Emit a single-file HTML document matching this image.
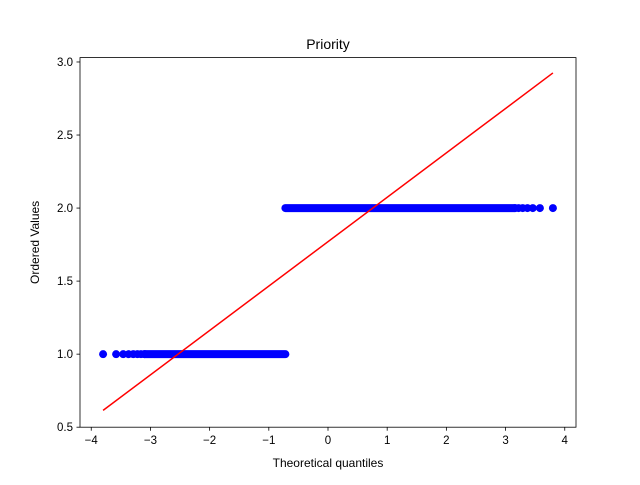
<!DOCTYPE html>
<html><head><meta charset="utf-8"><style>
body{margin:0;background:#fff;}
svg text{font-family:"Liberation Sans","DejaVu Sans",sans-serif;}
</style></head><body>
<svg id="chart" width="640" height="480" xmlns="http://www.w3.org/2000/svg">
<rect width="640" height="480" fill="#fff"/>
<g id="plot"></g>
</svg>
<script>
const xTicks=[-4,-3,-2,-1,0,1,2,3,4];
const yTicks=[0.5,1.0,1.5,2.0,2.5,3.0];
// sparse outer quantile points [x, y]
const lowPoints=[[-3.80,1],[-3.58,1],[-3.46,1],[-3.37,1],[-3.29,1],[-3.22,1],[-3.16,1],[-3.10,1]];
const highPoints=[[3.80,2],[3.58,2],[3.46,2],[3.37,2],[3.29,2],[3.22,2],[3.16,2]];
// dense bands [xStart, xEnd, y]
const bands=[[-3.10,-0.72,1],[-0.72,3.16,2]];
const fitX=[-3.80,3.80];
const fitY=[0.615,2.925];
const L=80,R=576,T=57.6,B=427.2;
const xmin=-4.19,xmax=4.19,ymin=0.5,ymax=3.03;
const sx=v=>L+(v-xmin)/(xmax-xmin)*(R-L);
const sy=v=>B-(v-ymin)/(ymax-ymin)*(B-T);
const g=document.getElementById('plot');
const NS='http://www.w3.org/2000/svg';
function mk(t,a){const e=document.createElementNS(NS,t);for(const k in a)e.setAttribute(k,a[k]);g.appendChild(e);return e;}
bands.forEach(b=>{
 const e=mk('line',{x1:sx(b[0]),x2:sx(b[1]),y1:sy(b[2]),y2:sy(b[2]),stroke:'#0000ff','stroke-width':8,'stroke-linecap':'round'});
 
 
});
lowPoints.concat(highPoints).forEach(p=>{
 const e=mk('circle',{cx:sx(p[0]),cy:sy(p[1]),r:4,fill:'#0000ff'});
 
 
});
const fl=mk('line',{x1:sx(fitX[0]),y1:sy(fitY[0]),x2:sx(fitX[1]),y2:sy(fitY[1]),stroke:'#ff0000','stroke-width':1.5});


const fr=mk('rect',{x:L,y:T,width:R-L,height:B-T,fill:'none',stroke:'#000','stroke-width':0.8});


xTicks.forEach(t=>{
 const x=sx(t);
 const l=mk('line',{x1:x,x2:x,y1:B,y2:B+3.5,stroke:'#000','stroke-width':0.8});
 
 
 const tx=mk('text',{x:x,y:B+17,'text-anchor':'middle','font-size':11.5});
 tx.textContent=t<0?'\u2212'+(-t):String(t);
 
 
});
yTicks.forEach(t=>{
 const y=sy(t);
 const l=mk('line',{x1:L-3.5,x2:L,y1:y,y2:y,stroke:'#000','stroke-width':0.8});
 
 
 const tx=mk('text',{x:L-7,y:y+4,'text-anchor':'end','font-size':11.5});
 tx.textContent=t.toFixed(1);
 
 
});
const ti=mk('text',{x:(L+R)/2,y:49,'text-anchor':'middle','font-size':14});
ti.textContent='Priority';


const xl=mk('text',{x:(L+R)/2,y:467,'text-anchor':'middle','font-size':12});
xl.textContent='Theoretical quantiles';


const yl=mk('text',{x:39,y:(T+B)/2,'text-anchor':'middle','font-size':12,transform:`rotate(-90 39 ${(T+B)/2})`});
yl.textContent='Ordered Values';


</script>
</body></html>
